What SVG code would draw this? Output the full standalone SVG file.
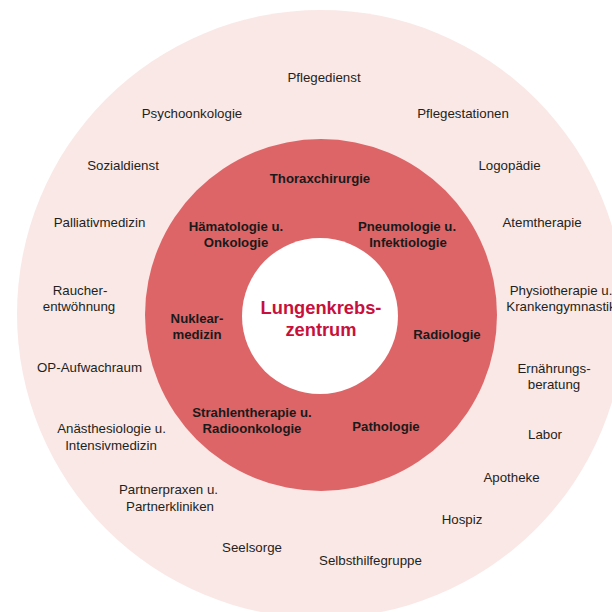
<svg xmlns="http://www.w3.org/2000/svg" width="612" height="612" viewBox="0 0 612 612">
<style>
.t{font-family:"Liberation Sans",Arial,sans-serif;font-size:13.3px;fill:#231F20;text-anchor:middle}
.b{font-family:"Liberation Sans",Arial,sans-serif;font-size:13.2px;font-weight:bold;fill:#1A1A1A;text-anchor:middle}
.c{font-family:"Liberation Sans",Arial,sans-serif;font-size:18.3px;font-weight:bold;fill:#C8103C;text-anchor:middle}
</style>
<rect width="612" height="612" fill="#FFFFFF"/>
<g id="rings">
<circle cx="321" cy="314" r="304" fill="#FAE8E6"/>
<circle cx="321" cy="315" r="176" fill="#DD6567"/>
<circle cx="320" cy="316" r="78" fill="#FFFFFF"/>
</g>
<g id="center"><text class="c" x="321" y="314">Lungenkrebs-</text><text class="c" x="321" y="336">zentrum</text></g>
<g id="thoraxchirurgie"><text class="b" x="320" y="183">Thoraxchirurgie</text></g>
<g id="haematologie"><text class="b" x="236" y="231">Hämatologie u.</text><text class="b" x="236" y="247">Onkologie</text></g>
<g id="pneumologie"><text class="b" x="407" y="231">Pneumologie u.</text><text class="b" x="408" y="247">Infektiologie</text></g>
<g id="nuklearmedizin"><text class="b" x="197" y="323">Nuklear-</text><text class="b" x="197" y="338.5">medizin</text></g>
<g id="radiologie"><text class="b" x="447" y="338.5">Radiologie</text></g>
<g id="strahlentherapie"><text class="b" x="252" y="417">Strahlentherapie u.</text><text class="b" x="252" y="433">Radioonkologie</text></g>
<g id="pathologie"><text class="b" x="386" y="431">Pathologie</text></g>
<g id="pflegedienst"><text class="t" x="324" y="81.5">Pflegedienst</text></g>
<g id="psychoonkologie"><text class="t" x="192" y="118">Psychoonkologie</text></g>
<g id="pflegestationen"><text class="t" x="463" y="118">Pflegestationen</text></g>
<g id="sozialdienst"><text class="t" x="123" y="170">Sozialdienst</text></g>
<g id="logopaedie"><text class="t" x="509.5" y="170">Logopädie</text></g>
<g id="palliativmedizin"><text class="t" x="99.5" y="227">Palliativmedizin</text></g>
<g id="atemtherapie"><text class="t" x="542" y="227">Atemtherapie</text></g>
<g id="raucherentwoehnung"><text class="t" x="80" y="294.5">Raucher-</text><text class="t" x="79" y="311">entwöhnung</text></g>
<g id="physiotherapie"><text class="t" x="561" y="294.5">Physiotherapie u.</text><text class="t" x="561" y="311">Krankengymnastik</text></g>
<g id="op-aufwachraum"><text class="t" x="89.5" y="371.5">OP-Aufwachraum</text></g>
<g id="ernaehrungsberatung"><text class="t" x="554" y="372.5">Ernährungs-</text><text class="t" x="554" y="389">beratung</text></g>
<g id="anaesthesiologie"><text class="t" x="111.5" y="433">Anästhesiologie u.</text><text class="t" x="111" y="450">Intensivmedizin</text></g>
<g id="labor"><text class="t" x="545" y="439">Labor</text></g>
<g id="apotheke"><text class="t" x="511.5" y="482">Apotheke</text></g>
<g id="partnerpraxen"><text class="t" x="168.5" y="494">Partnerpraxen u.</text><text class="t" x="170" y="511">Partnerkliniken</text></g>
<g id="hospiz"><text class="t" x="462" y="524">Hospiz</text></g>
<g id="seelsorge"><text class="t" x="252" y="552">Seelsorge</text></g>
<g id="selbsthilfegruppe"><text class="t" x="370.5" y="565">Selbsthilfegruppe</text></g>
</svg>
